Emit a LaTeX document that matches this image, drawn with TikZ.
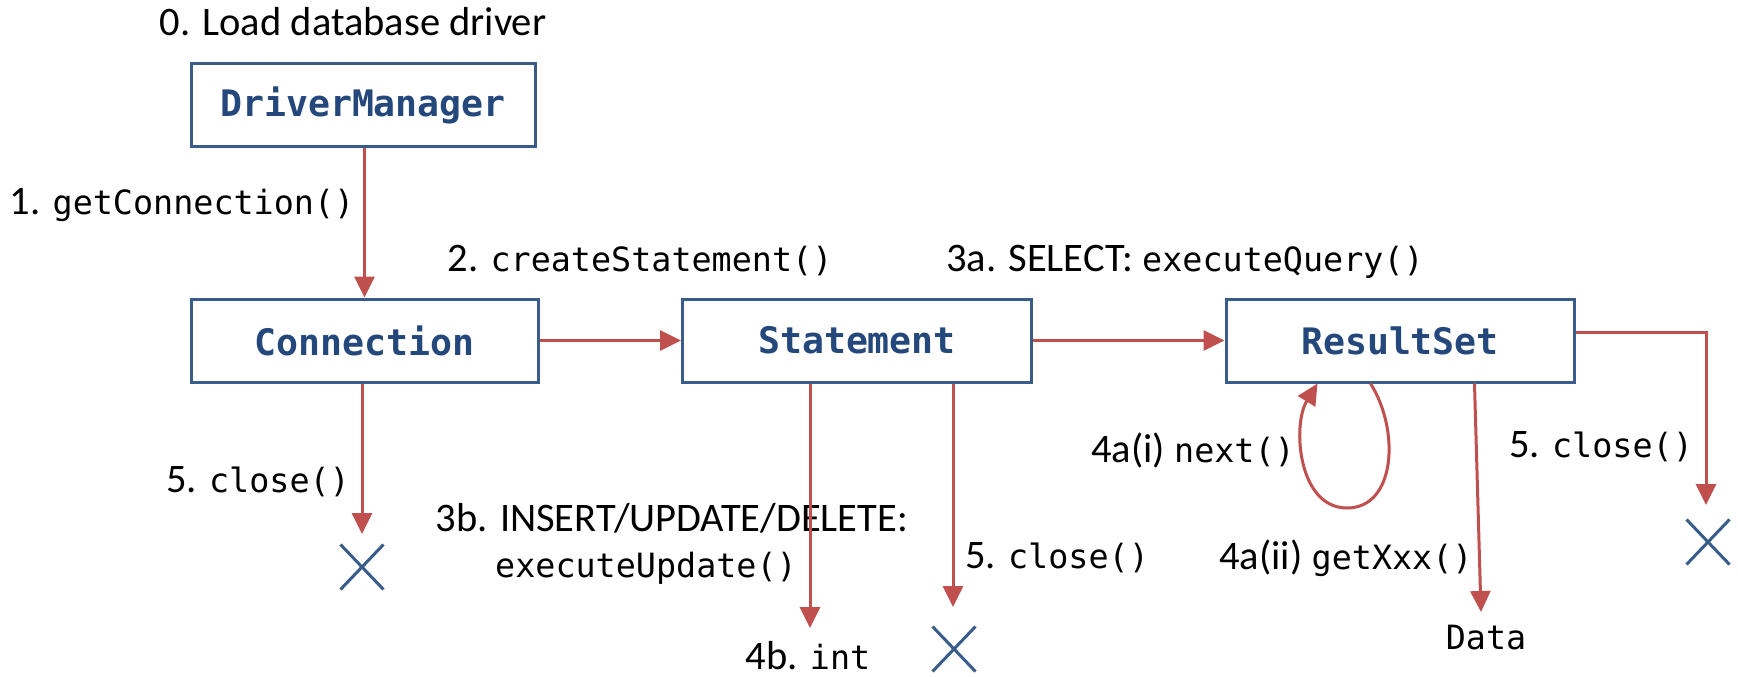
\documentclass[tikz,border=0pt]{standalone}
\usepackage{fontspec}
\setmainfont{Carlito}
\newfontfamily\codefont{DejaVu Sans Mono}
\usetikzlibrary{arrows.meta,shapes.misc,calc}
\definecolor{boxblue}{RGB}{56,93,138}
\definecolor{txtblue}{RGB}{36,72,124}
\definecolor{arrred}{RGB}{192,80,77}
\newcommand{\cd}[1]{{\codefont\fontsize{33.4}{40}\selectfont #1}}
\begin{document}
\begin{tikzpicture}[x=1pt,y=-1pt,
  cls/.style={draw=boxblue, line width=3pt, fill=white, minimum height=83pt, inner sep=0pt, text=txtblue, font=\codefont\bfseries\fontsize{36.5}{44}\selectfont},
  lbl/.style={inner sep=0pt, font=\fontsize{40.5}{48}\selectfont},
  arr/.style={draw=arrred, line width=3pt, -{Triangle[length=21pt,width=20pt]}},
  endx/.style={cross out, draw=boxblue, line width=3pt, minimum width=40pt, minimum height=42pt, inner sep=0pt}
]
\path[use as bounding box] (0,0) rectangle (1738,677);

% classes
\node[cls, minimum width=344pt] (dm)   at (363,105)   {DriverManager};
\node[cls, minimum width=347pt] (conn) at (364.5,340.5) {Connection};
\node[cls, minimum width=349pt] (stmt) at (857,340.5) {Statement};
\node[cls, minimum width=348pt] (rs)   at (1400,340.5) {ResultSet};

% end marks
\node[endx] (x1) at (362,567) {};
\node[endx] (x2) at (954,649) {};
\node[endx] (x3) at (1708,542) {};

% labels
\node[lbl] (t0)   at (353,22)   {0. Load database driver};
\node[lbl] (t1)   at (182,205)  {1. \cd{getConnection()}};
\node[lbl] (t2)   at (640,261)  {2. \cd{createStatement()}};
\node[lbl] (t3a)  at (1185,262) {3a. SELECT: \cd{executeQuery()}};
\node[lbl] (t3b)  at (672,518)  {3b. INSERT/UPDATE/DELETE:};
\node[lbl] (t3bb) at (646,568)  {\cd{executeUpdate()}};
\node[lbl] (t5a)  at (258,482)  {5. \cd{close()}};
\node[lbl] (t5b)  at (1057,558) {5. \cd{close()}};
\node[lbl] (t5c)  at (1601,447) {5. \cd{close()}};
\node[lbl] (t4ai) at (1193,450) {4a(i) \cd{next()}};
\node[lbl] (t4aii) at (1346,558) {4a(ii) \cd{getXxx()}};
\node[lbl] (t4b)  at (808,656)  {4b. \cd{int}};
\node[lbl] (data) at (1486,638) {\cd{Data}};

% free ends
\coordinate (e1) at (362,534);
\coordinate (e4b) at (810,628);
\coordinate (e2) at (953,607);
\coordinate (e3) at (1706,505);
\coordinate (ed) at (1481,612);

% connectors
\draw[arr] (dm.south -| conn.north) -- (conn.north);
\draw[arr] (conn.east) -- (stmt.west);
\draw[arr] (stmt.east) -- (rs.west);
\draw[arr] (conn.south -| e1) -- (e1);
\draw[arr] (stmt.south -| e4b) -- (e4b);
\draw[arr] (stmt.south -| e2) -- (e2);
\draw[arr] ($(rs.north east)+(0,35)$) -| (e3);
\draw[arr] ($(rs.south west)+(250,0)$) -- (ed);
\draw[arr] ($(rs.south west)+(146,0)$) .. controls (1400,430) and (1396,508) .. (1347,508)
  .. controls (1298,508) and (1292,425) .. ($(rs.south west)+(93,0)$);
\end{tikzpicture}
\end{document}
